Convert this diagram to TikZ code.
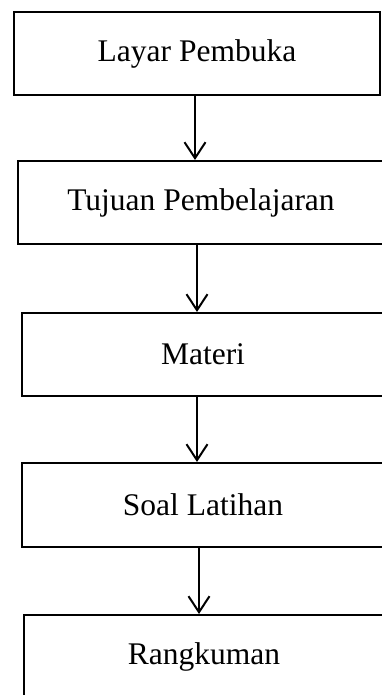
\documentclass[tikz,border=0pt]{standalone}
\usepackage{fontspec}
\setmainfont{Liberation Serif}
\usetikzlibrary{arrows.meta}

\begin{document}
\begin{tikzpicture}[x=1pt, y=-1pt,
    stepbox/.style={rectangle, draw, line width=2pt, minimum width=366pt, minimum height=83pt, align=center,
        font=\fontsize{31.5}{36}\selectfont},
    arrow/.style={-{Straight Barb[length=16pt, width=21pt]}, line width=2pt}
]
    \useasboundingbox (0,0) rectangle (382,695);

    % Boxes
    \node[stepbox] (open) at (197, 53.5) {Layar Pembuka};
    \node[stepbox] (goal) at (201, 202.5) {Tujuan Pembelajaran};
    \node[stepbox, minimum width=362pt] (mat) at (203, 354.5) {Materi};
    \node[stepbox, minimum width=362pt, minimum height=84pt] (quiz) at (203, 505) {Soal Latihan};
    \node[stepbox, minimum width=360pt] (sum) at (204, 656.5) {Rangkuman};

    % Arrows
    \draw[arrow] ([xshift=-2pt]open.south) -- ([xshift=-6pt]goal.north);
    \draw[arrow] ([xshift=-4pt]goal.south) -- ([xshift=-6pt]mat.north);
    \draw[arrow] ([xshift=-6pt]mat.south) -- ([xshift=-6pt]quiz.north);
    \draw[arrow] ([xshift=-4pt]quiz.south) -- ([xshift=-5pt]sum.north);
\end{tikzpicture}
\end{document}
